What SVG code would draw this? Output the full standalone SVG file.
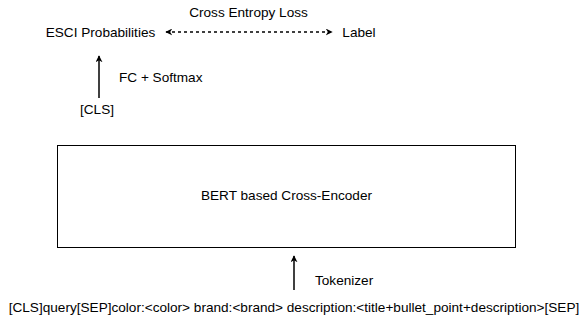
<svg xmlns="http://www.w3.org/2000/svg" width="582" height="325" viewBox="0 0 582 325">
<style>
text{font-family:"Liberation Sans",Arial,sans-serif;font-size:13.6px;fill:#000}
.c{stroke:#000;stroke-width:1.5;fill:none}
</style>
<defs>
<marker id="ah" viewBox="0 0 10 10" refX="9" refY="5" markerWidth="7" markerHeight="7" orient="auto-start-reverse" markerUnits="userSpaceOnUse"><path d="M0,0 L10,5 L0,10 L3,5 Z" fill="#000"/></marker>
</defs>
<rect width="582" height="325" fill="#fff"/>
<g id="connectors">
<line class="c" x1="99" y1="98" x2="99" y2="56" marker-end="url(#ah)"/>
<line class="c" x1="294" y1="290" x2="294" y2="256" marker-end="url(#ah)"/>
<line class="c" x1="166" y1="32" x2="332" y2="32" stroke-dasharray="3,3" marker-start="url(#ah)" marker-end="url(#ah)"/>
<text x="248.5" y="17" text-anchor="middle">Cross Entropy Loss</text>
<text x="119" y="82">FC + Softmax</text>
<text x="315" y="285">Tokenizer</text>
</g>
<g id="esci"><text x="100.5" y="37" text-anchor="middle">ESCI Probabilities</text></g>
<g id="label"><text x="359" y="37" text-anchor="middle">Label</text></g>
<g id="cls"><text x="97" y="114" text-anchor="middle">[CLS]</text></g>
<g id="bert"><rect x="57.5" y="145.5" width="458" height="102" fill="#fff" stroke="#000" stroke-width="1"/><text x="286.5" y="200" text-anchor="middle">BERT based Cross-Encoder</text></g>
<g id="input"><text x="294" y="312" text-anchor="middle">[CLS]query[SEP]color:&lt;color&gt; brand:&lt;brand&gt; description:&lt;title+bullet_point+description&gt;[SEP]</text></g>
</svg>
